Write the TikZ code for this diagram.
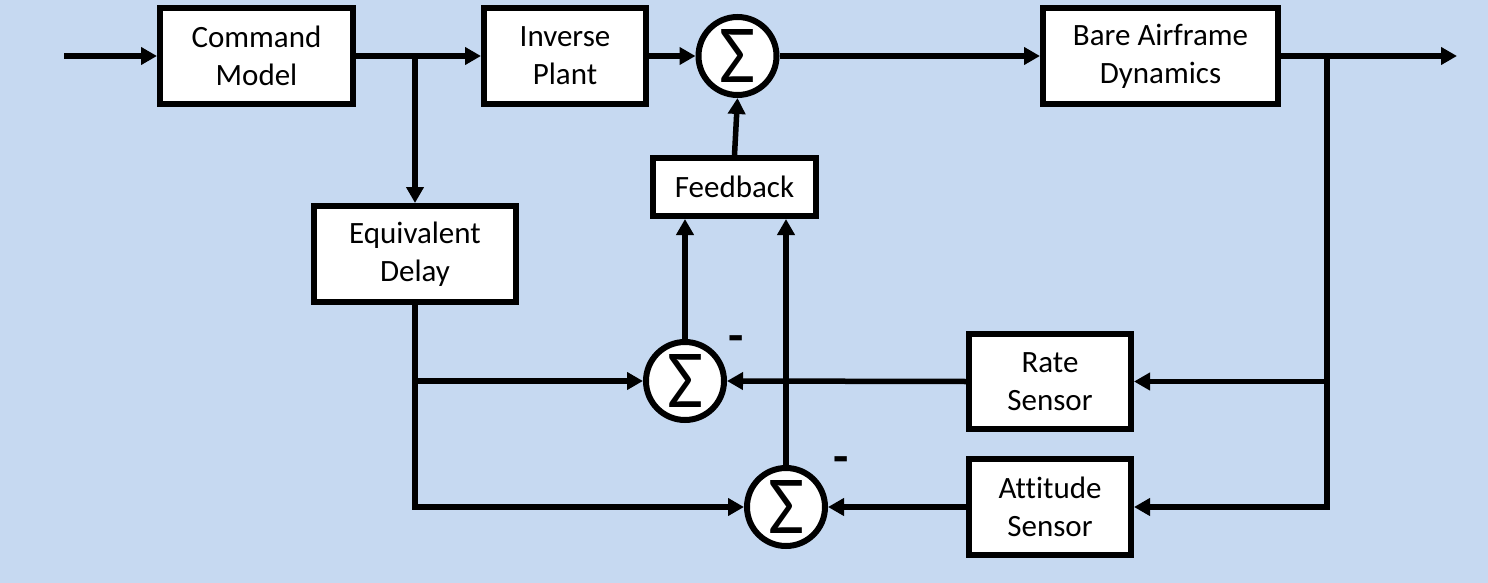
\documentclass[tikz,border=0pt]{standalone}
\usepackage{fontspec}
\usepackage{graphicx}
\setmainfont{Carlito}[Ligatures=NoCommon]
\usetikzlibrary{arrows.meta}
\definecolor{bg}{RGB}{198,217,241}
\begin{document}
\begin{tikzpicture}[x=1pt,y=-1pt,
  blk/.style={draw=black, line width=6pt, fill=white, inner sep=0pt, align=center,
    font=\fontsize{31}{38}\selectfont},
  sumnode/.style={circle, draw=black, line width=6pt, fill=white, minimum size=78pt, inner sep=0pt,
    font=\fontsize{82}{82}\selectfont},
  conn/.style={line width=5.5pt},
  arr/.style={conn, -{Triangle[length=16pt,width=17pt]}},
  minus/.style={inner sep=0pt, anchor=base, font=\bfseries\fontsize{50}{50}\selectfont},
]
\fill[bg] (0,0) rectangle (1488,583);
\useasboundingbox (0,0) rectangle (1488,583);

% blocks
\node[blk, minimum width=193pt, minimum height=96pt] (cmd) at (256.5,56) {Command\\Model};
\node[blk, minimum width=162pt, minimum height=96pt] (inv) at (565,56) {Inverse\\Plant};
\node[blk, minimum width=235pt, minimum height=96pt] (bare) at (1160.5,56) {Bare Airframe\\Dynamics};
\node[blk, minimum width=163pt, minimum height=58pt] (fb) at (734.5,187) {Feedback};
\node[blk, minimum width=202pt, minimum height=96pt] (delay) at (415,254) {Equivalent\\Delay};
\node[blk, minimum width=162pt, minimum height=95pt] (rate) at (1050,381.5) {Rate\\Sensor};
\node[blk, minimum width=162pt, minimum height=96pt] (att) at (1050,507) {Attitude\\Sensor};

% summing junctions
\node[sumnode] (s1) at (737.5,56) {\resizebox{36pt}{53pt}{Σ}};
\node[sumnode] (s2) at (685,381) {\resizebox{36pt}{53pt}{Σ}};
\node[sumnode] (s3) at (786,507) {\resizebox{36pt}{53pt}{Σ}};

% minus signs
\node[minus] (m2) at (736,352.5) {-};
\node[minus] (m3) at (841,473) {-};

% free ends
\coordinate (in) at (64,56);
\coordinate (out) at (1457,56);
\coordinate (split1) at (415,56);
\coordinate (split2) at (1327,56);

% connectors
\draw[arr] (in) -- (cmd.west);
\draw[arr] (cmd.east) -- (inv.west);
\draw[arr] (split1) -- (delay.north);
\draw[arr] (inv.east) -- (s1.west);
\draw[arr] (s1.east) -- (bare.west);
\draw[arr] (bare.east) -- (out);
\draw[arr] (split2) |- (att.east);
\draw[arr] (split2 |- rate.east) -- (rate.east);
\draw[arr] (fb.north) -- (s1.south);
\draw[arr] (s2.north) -- (s2.north |- fb.south);
\draw[arr] (s3.north) -- (s3.north |- fb.south);
\draw[arr] (delay.south) |- (s3.west);
\draw[arr] (delay.south |- s2.west) -- (s2.west);
\draw[arr] (rate.west) -- (s2.east);
\draw[arr] (att.west) -- (s3.east);
\end{tikzpicture}
\end{document}
